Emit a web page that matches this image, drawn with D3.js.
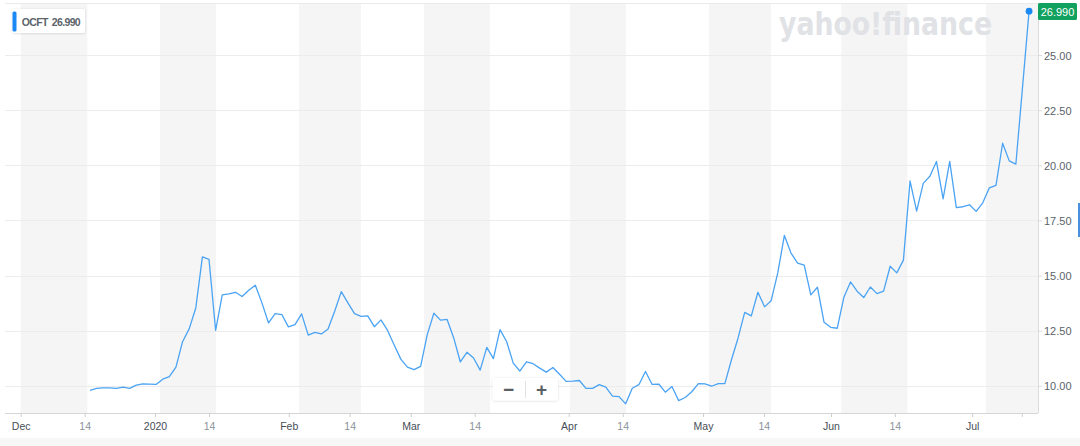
<!DOCTYPE html>
<html>
<head>
<meta charset="utf-8">
<script src="https://cdn.jsdelivr.net/npm/d3@7/dist/d3.min.js"></script>
<style>
  html, body { margin: 0; padding: 0; background: #ffffff; }
  svg { display: block; }
  text { font-family: "Liberation Sans", Arial, Helvetica, sans-serif; }
</style>
</head>
<body>
<svg id="chart" width="1080" height="446"></svg>
<script>
// ---- data (trading-day index -> close) ----
const ticker = "OCFT";
const lastPriceLabel = "26.990";
const closes = [
  9.79, 9.88, 9.91, 9.91, 9.88, 9.94, 9.88, 10.03, 10.09, 10.08,
  10.06, 10.30, 10.42, 10.85, 12.00, 12.58, 13.53, 15.85, 15.73, 12.51,
  14.12, 14.17, 14.24, 14.05, 14.33, 14.56, 13.76, 12.85, 13.27, 13.23,
  12.67, 12.77, 13.26, 12.30, 12.42, 12.35, 12.58, 13.38, 14.27, 13.76,
  13.27, 13.15, 13.17, 12.68, 12.99, 12.51, 11.85, 11.21, 10.85, 10.73,
  10.88, 12.32, 13.29, 12.98, 13.01, 12.17, 11.08, 11.52, 11.26, 10.71,
  11.74, 11.23, 12.55, 12.01, 11.03, 10.67, 11.09, 11.00, 10.80, 10.62,
  10.83, 10.52, 10.20, 10.21, 10.24, 9.88, 9.88, 10.05, 9.94, 9.53,
  9.51, 9.18, 9.89, 10.05, 10.65, 10.06, 10.08, 9.71, 9.97, 9.33,
  9.47, 9.73, 10.10, 10.09, 9.98, 10.10, 10.10, 11.18, 12.17, 13.33,
  13.17, 14.24, 13.58, 13.86, 15.12, 16.82, 16.02, 15.56, 15.47, 14.12,
  14.47, 12.88, 12.65, 12.61, 14.02, 14.71, 14.29, 14.00, 14.48, 14.18,
  14.29, 15.42, 15.12, 15.70, 19.29, 17.92, 19.18, 19.50, 20.17, 18.48,
  20.18, 18.08, 18.12, 18.21, 17.91, 18.30, 18.98, 19.09, 21.00, 20.20,
  20.05, 23.50, 26.99
];
// x-axis tick labels and their positions in trading-day units
const xTickLabels = ["Dec", "14", "2020", "14", "Feb", "14", "Mar", "14", "Apr", "14", "May", "14", "Jun", "14", "Jul", ""];
const xTickPos    = [-10.48, -0.80, 9.83, 18.0, 30.05, 39.27, 48.5, 58.17, 72.39, 80.55, 92.7, 101.9, 112.05, 121.7, 133.4, 140.9];
const xTickMajor  = [true, false, true, false, true, false, true, false, true, false, true, false, true, false, true, false];
// first-half-of-month shaded bands (trading-day units)
const bandStart = [-10.48, 10.59, 31.6, 50.5, 72.6, 93.6, 113.6, 135.5];
const bandEnd   = [-0.41, 19.05, 40.98, 60.5, 81.05, 102.98, 123.6, 143.35];
// y-axis ticks
const yTicks = [10, 12.5, 15, 17.5, 20, 22.5, 25];

// ---- layout ----
const svg = d3.select("#chart");
const plot = { left: 5, right: 1038, top: 3, bottom: 413 };

const x = d3.scaleLinear().domain([-12.85, 143.35]).range([plot.left, plot.right]);
const y = d3.scaleLinear().domain([8.766, 27.36]).range([plot.bottom, plot.top]);

// bottom light band
svg.append("rect").attr("x", 0).attr("y", 438).attr("width", 1080).attr("height", 8).attr("fill", "#f7f7f7");

// shaded month bands
svg.append("g").selectAll("rect").data(d3.range(bandStart.length)).join("rect")
  .attr("x", i => x(bandStart[i]))
  .attr("width", i => x(bandEnd[i]) - x(bandStart[i]))
  .attr("y", plot.top)
  .attr("height", plot.bottom - plot.top)
  .attr("fill", "#f5f5f5");

// horizontal gridlines
svg.append("g").selectAll("line").data(yTicks).join("line")
  .attr("x1", plot.left).attr("x2", plot.right)
  .attr("y1", d => Math.round(y(d)) + 0.5).attr("y2", d => Math.round(y(d)) + 0.5)
  .attr("stroke", "#ececec").attr("stroke-width", 1);

// top border
svg.append("line").attr("x1", plot.left).attr("x2", plot.right)
  .attr("y1", plot.top + 0.5).attr("y2", plot.top + 0.5).attr("stroke", "#eaeaea");
// right border
svg.append("line").attr("x1", plot.right + 0.5).attr("x2", plot.right + 0.5)
  .attr("y1", plot.top).attr("y2", plot.bottom).attr("stroke", "#dcdcdc");

// watermark
svg.append("text")
  .attr("x", 779).attr("y", 35)
  .attr("textLength", 213).attr("lengthAdjust", "spacingAndGlyphs")
  .style("font-family", "'DejaVu Sans', sans-serif")
  .style("font-weight", "bold").style("font-size", "32px")
  .attr("fill", "#e0e2e6")
  .text("yahoo!finance");

// y axis (right)
const yAxis = d3.axisRight(y).tickValues(yTicks).tickFormat(d3.format(".2f")).tickSize(4).tickPadding(2);
const gy = svg.append("g").attr("transform", `translate(${plot.right},0)`).call(yAxis);
gy.select(".domain").remove();
gy.selectAll(".tick line").attr("stroke", "#dcdcdc");
gy.selectAll(".tick text").attr("fill", "#5b636a").style("font-size", "11px")
  .style("font-family", "'Liberation Sans', Arial, sans-serif").attr("dy", "0.38em");

// x axis
const xAxis = d3.axisBottom(x).tickValues(xTickPos).tickFormat((d, i) => xTickLabels[i]).tickSize(4).tickPadding(6);
const gx = svg.append("g").attr("transform", `translate(0,${plot.bottom})`).call(xAxis);
gx.select(".domain").attr("stroke", "#d6d6d6").attr("d", `M${plot.left},0.5H${plot.right}`);
gx.selectAll(".tick line").attr("stroke", "#cfcfcf");
gx.selectAll(".tick text")
  .style("font-size", "10.5px")
  .style("font-family", "'Liberation Sans', Arial, sans-serif")
  .attr("fill", (d, i) => xTickMajor[i] ? "#464e56" : "#8a9299");

// price line
const line = d3.line().x((d, i) => x(i)).y(d => y(d));
svg.append("path").datum(closes)
  .attr("d", line).attr("fill", "none")
  .attr("stroke", "#4aa3f3").attr("stroke-width", 1.3).attr("stroke-linejoin", "round");

// last point dot
const lastI = closes.length - 1;
svg.append("circle").attr("cx", x(lastI)).attr("cy", y(closes[lastI])).attr("r", 3.4).attr("fill", "#1a88f5");

// last price tag
svg.append("rect").attr("x", plot.right).attr("y", 3).attr("width", 39).attr("height", 17).attr("rx", 1.5).attr("fill", "#12a15e");
svg.append("text").attr("x", plot.right + 19.5).attr("y", 15.8).attr("text-anchor", "middle")
  .attr("fill", "#ffffff").style("font-size", "11px").text(lastPriceLabel);

// right small blue handle
svg.append("rect").attr("x", 1078).attr("y", 203).attr("width", 2).attr("height", 34).attr("fill", "#4a8fe0");

// legend box
const defs = svg.append("defs");
const f = defs.append("filter").attr("id", "sh").attr("x", "-20%").attr("y", "-30%").attr("width", "140%").attr("height", "160%");
f.append("feDropShadow").attr("dx", 0).attr("dy", 0.5).attr("stdDeviation", 1).attr("flood-color", "#000").attr("flood-opacity", 0.15);
svg.append("rect").attr("x", 12.5).attr("y", 9).attr("width", 72.5).attr("height", 24).attr("rx", 2)
  .attr("fill", "#ffffff").attr("filter", "url(#sh)");
svg.append("rect").attr("x", 12.5).attr("y", 11.5).attr("width", 4).attr("height", 20).attr("rx", 1.5).attr("fill", "#1a88f5");
const lg = svg.append("text").attr("x", 21.7).attr("y", 26).attr("fill", "#5b636a")
  .style("font-size", "10.5px").style("font-weight", "bold")
  .attr("textLength", 59).attr("lengthAdjust", "spacing");
lg.append("tspan").text(ticker);
lg.append("tspan").attr("dx", 4).text(lastPriceLabel);

// zoom buttons
const zb = svg.append("g");
zb.append("rect").attr("x", 492.5).attr("y", 378).attr("width", 65.5).attr("height", 22.5).attr("rx", 2)
  .attr("fill", "#ffffff").attr("filter", "url(#sh)");
zb.append("line").attr("x1", 525.5).attr("x2", 525.5).attr("y1", 381).attr("y2", 398).attr("stroke", "#e2e2e2");
zb.append("text").attr("x", 508.5).attr("y", 395.5).attr("text-anchor", "middle")
  .attr("fill", "#5a5f64").style("font-size", "19px").style("font-weight", "bold").text("\u2212");
zb.append("text").attr("x", 541.5).attr("y", 396).attr("text-anchor", "middle")
  .attr("fill", "#5a5f64").style("font-size", "19px").style("font-weight", "bold").text("+");
</script>
</body>
</html>
